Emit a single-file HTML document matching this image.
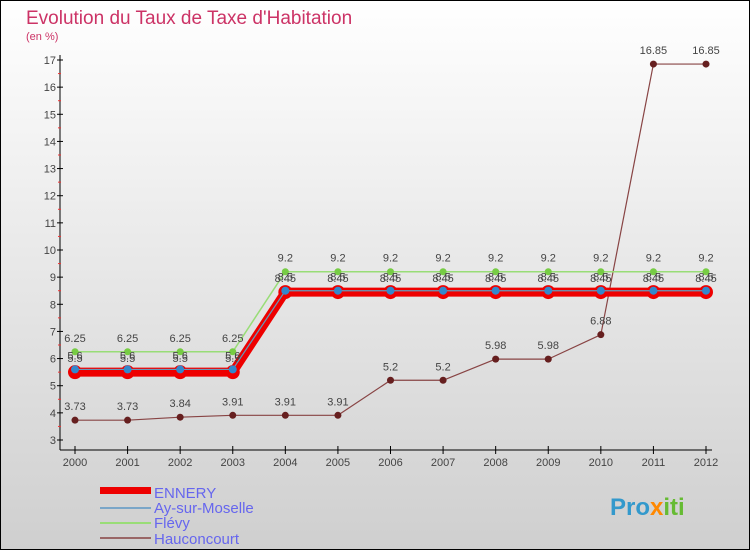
<!DOCTYPE html>
<html><head><meta charset="utf-8"><style>
body{margin:0}
#c{width:750px;height:550px;position:relative;overflow:hidden;font-family:"Liberation Sans",sans-serif}
</style></head><body>
<div id="c">
<svg id="s" width="750" height="550" xmlns="http://www.w3.org/2000/svg">
<defs><linearGradient id="bg" x1="0" y1="0" x2="0" y2="1"><stop offset="0" stop-color="#ffffff"/><stop offset="1" stop-color="#cfcfcf"/></linearGradient></defs>
<rect x="0.5" y="0.5" width="749" height="549" fill="url(#bg)" stroke="#000"/>
<text x="26" y="24" font-size="19" fill="#cc3366">Evolution du Taux de Taxe d'Habitation</text>
<text x="26" y="40" font-size="11" fill="#cc3366">(en %)</text>
<g id="axes"></g><g id="series"></g>
<g>
<rect x="100" y="487" width="51" height="7" fill="#ee0000"/><text x="154" y="498" font-size="15" fill="#6666ee">ENNERY</text>
<rect x="100" y="507" width="51" height="2" fill="#7aa6c8"/><text x="154" y="513" font-size="15" fill="#6666ee">Ay-sur-Moselle</text>
<rect x="100" y="522" width="51" height="2" fill="#99dd77"/><text x="154" y="528" font-size="15" fill="#6666ee">Flévy</text>
<rect x="100" y="537" width="51" height="2" fill="#996666"/><text x="154" y="544" font-size="15" fill="#6666ee">Hauconcourt</text>
</g>
<text x="610" y="515" font-size="24" font-weight="bold" fill="#3399cc">Pro<tspan fill="#ff8800">x</tspan><tspan fill="#66bb33">iti</tspan></text>
</svg></div>
<script>
const years=[2000,2001,2002,2003,2004,2005,2006,2007,2008,2009,2010,2011,2012];
const ennery=[5.5,5.5,5.5,5.5,8.45,8.45,8.45,8.45,8.45,8.45,8.45,8.45,8.45];
const ay=[5.6,5.6,5.6,5.6,8.5,8.5,8.5,8.5,8.5,8.5,8.5,8.5,8.5];
const flevy=[6.25,6.25,6.25,6.25,9.2,9.2,9.2,9.2,9.2,9.2,9.2,9.2,9.2];
const hauc=[3.73,3.73,3.84,3.91,3.91,3.91,5.2,5.2,5.98,5.98,6.88,16.85,16.85];
const yTicks=[3,4,5,6,7,8,9,10,11,12,13,14,15,16,17];
const NS="http://www.w3.org/2000/svg";
const X=i=>75+i*(706-75)/(years.length-1);
const Y=v=>440-(v-3)*(380/14);
function mk(p,t,a){const e=document.createElementNS(NS,t);for(const k in a)e.setAttribute(k,a[k]);p.appendChild(e);return e;}
const ax=document.getElementById('axes');
let e=mk(ax,'line',{x1:60,y1:55,x2:60,y2:450,stroke:'#000'});


e=mk(ax,'line',{x1:60,y1:450,x2:712,y2:450,stroke:'#000'});


yTicks.forEach(v=>{mk(ax,'line',{x1:57,y1:Y(v),x2:63,y2:Y(v),stroke:'#000'});
 if(v<17)mk(ax,'line',{x1:58,y1:Y(v+0.5),x2:61,y2:Y(v+0.5),stroke:'#e33'});
 const t=mk(ax,'text',{x:56,y:Y(v)+4,'font-size':11,fill:'#444','text-anchor':'end'});t.textContent=v;
 
 });
years.forEach((y,i)=>{mk(ax,'line',{x1:X(i),y1:446,x2:X(i),y2:454,stroke:'#000'});
 const t=mk(ax,'text',{x:X(i),y:466,'font-size':11,fill:'#444','text-anchor':'middle'});t.textContent=y;
 
 });
const sg=document.getElementById('series');
function series(name,vals,col,w,dot,dotCol,dr,lab){
 const g=mk(sg,'g',{});
 
 
 mk(g,'polyline',{points:vals.map((v,i)=>X(i)+','+Y(v)).join(' '),fill:'none',stroke:col,'stroke-width':w,'stroke-linejoin':'round'});
 vals.forEach((v,i)=>{mk(g,'circle',{cx:X(i),cy:Y(v),r:dr,fill:dotCol});
  if(lab){const t=mk(g,'text',{x:X(i),y:Y(v)-10,'font-size':11,fill:'#444','text-anchor':'middle'});t.textContent=v;}});
}
series('series-hauconcourt',hauc,'#884444',1.2,1,'#661f1f',3.5,true);
series('series-flevy',flevy,'#99dd77',1.5,1,'#77cc44',3.5,true);
series('series-ennery',ennery,'#ee0000',9,1,'#ee0000',7,true);
series('series-ay-sur-moselle',ay,'#6699bb',1.2,1,'#3388cc',4,true);
</script></body></html>
